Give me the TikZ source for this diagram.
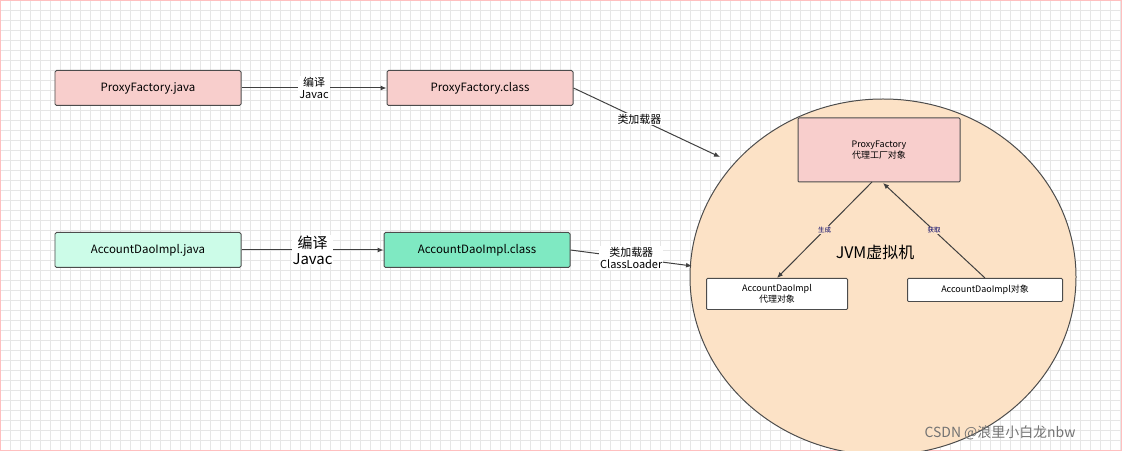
\documentclass[tikz,border=0pt]{standalone}
\usepackage{fontspec}
\setmainfont{Noto Sans CJK SC}
\usetikzlibrary{arrows.meta,shapes.geometric}
\definecolor{boxpink}{HTML}{F8CECC}
\definecolor{boxmint}{HTML}{CCFCE8}
\definecolor{boxgreen}{HTML}{7FE9C2}
\definecolor{jvmfill}{HTML}{FCE2C6}
\definecolor{gridcol}{HTML}{E6E6E6}
\tikzset{
  box/.style={draw=black!70,line width=1pt,rounded corners=1.5pt,minimum width=186bp,minimum height=35bp,font=\fontsize{11.5}{13}\selectfont},
  small/.style={draw=black!70,line width=1pt,rounded corners=1pt,fill=white,font=\fontsize{9}{11}\selectfont,align=center},
  link/.style={draw=black!75,line width=1pt,-{Latex[length=6pt,width=5pt]}},
  lbl/.style={fill=white,inner sep=1pt,align=center,font=\fontsize{11}{12}\selectfont},
}
\begin{document}
\begin{tikzpicture}[x=1bp,y=-1bp]
\useasboundingbox (0,0) rectangle (1122,451);
\draw[gridcol,step=10bp,line width=0.4pt] (0,0) grid (1122,451);
\draw[red!25,line width=1pt] (0.5,0.5) rectangle (1121.5,450.5);
%%
\node (pfjava) at (148,88) [box,fill=boxpink] {ProxyFactory.java};
\node (pfclass) at (480,88) [box,fill=boxpink] {ProxyFactory.class};
\node (adjava) at (148,250) [box,fill=boxmint] {AccountDaoImpl.java};
\node (adclass) at (477,250) [box,fill=boxgreen] {AccountDaoImpl.class};
\node (jvm) at (883,277) [draw=black!70,line width=1pt,fill=jvmfill,ellipse,minimum width=386bp,minimum height=356bp] {};
\node (jvmtext) at (875,252) [font=\fontsize{16}{18}\selectfont] {JVM虚拟机};
\node (pfobj) at (879,150) [small,fill=boxpink,minimum width=162bp,minimum height=64bp] {ProxyFactory\\代理工厂对象};
\node (proxy) at (777,294) [small,minimum width=141bp,minimum height=31bp,inner sep=1pt] {AccountDaoImpl\\代理对象};
\node (adobj) at (985,290) [small,minimum width=155bp,minimum height=23bp] {AccountDaoImpl对象};
\coordinate (in1) at (720,157);
\coordinate (in2) at (692,266);
\draw [link] (pfjava) -- node[lbl] {编译\\Javac} (pfclass);
\draw [link] (adjava) -- node[lbl,font=\fontsize{15}{16}\selectfont] {编译\\Javac} (adclass);
\draw [link] (pfclass.east) -- node[lbl,pos=0.45] {类加载器} (in1);
\draw [link] (adclass.east) -- node[lbl,pos=0.5] {类加载器\\ClassLoader} (in2);
\draw [link] (872,182) -- node[fill=jvmfill,inner sep=1pt,font=\fontsize{6.5}{7}\selectfont,text=blue!40!black] {生成} (proxy.north);
\draw [link] (adobj.north) -- node[fill=jvmfill,inner sep=1pt,font=\fontsize{6.5}{7}\selectfont,text=blue!40!black] {获取} (883,183);
\node (mark) at (1000,433) [text=black!55,font=\fontsize{14}{16}\selectfont] {CSDN @浪里小白龙nbw};
%
\end{tikzpicture}
\end{document}
